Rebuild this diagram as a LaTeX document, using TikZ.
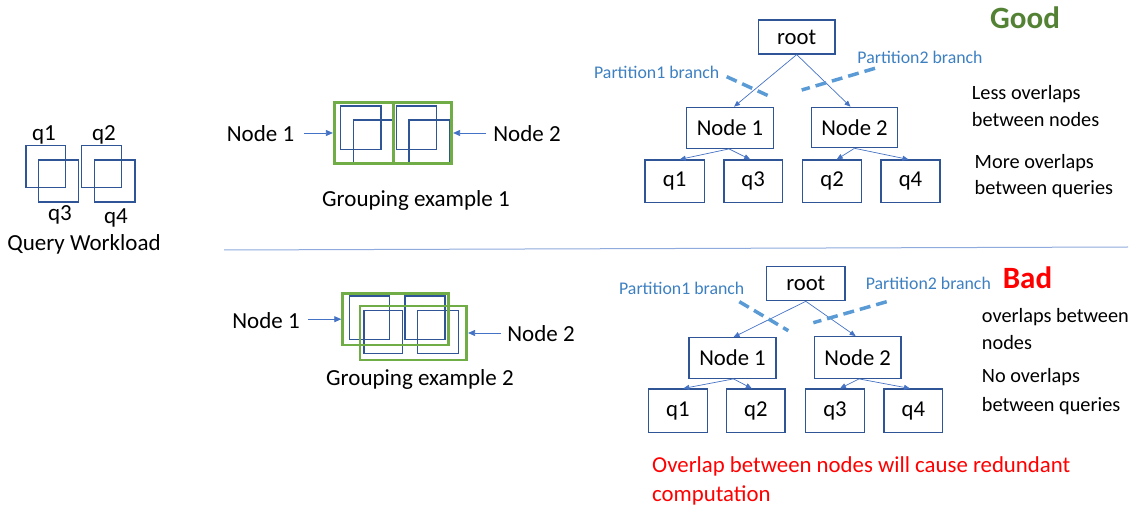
\documentclass[tikz,border=0pt]{standalone}
\usepackage{fontspec}
\setmainfont{Carlito}
\usetikzlibrary{arrows.meta}
\definecolor{boxblue}{RGB}{47,85,151}
\definecolor{linkblue}{RGB}{68,114,196}
\definecolor{dashblue}{RGB}{91,155,213}
\definecolor{labelblue}{RGB}{61,128,193}
\definecolor{groupgreen}{RGB}{112,173,71}
\definecolor{goodgreen}{RGB}{84,130,53}
\definecolor{rulerblue}{RGB}{143,170,220}
\tikzset{
  body/.style={font=\fontsize{23}{27}\selectfont, inner sep=0pt},
  note/.style={font=\fontsize{20.3}{24}\selectfont, inner sep=0pt, anchor=base west},
  verdict/.style={font=\fontsize{31}{36}\selectfont\bfseries, inner sep=0pt},
  tbox/.style={draw=boxblue, line width=1.2pt, inner sep=0pt, font=\fontsize{22.7}{26}\selectfont},
  qsq/.style={draw=boxblue, line width=1.1pt},
  grp/.style={draw=groupgreen, line width=2.8pt, inner sep=0pt},
  link/.style={draw=linkblue, line width=0.7pt, -{Triangle[length=6pt,width=5pt]}},
  pointer/.style={draw=linkblue, line width=0.8pt, -{Triangle[length=7pt,width=6pt]}},
  part/.style={draw=dashblue, line width=3.5pt, dash pattern=on 11pt off 6pt},
  partlbl/.style={text=labelblue, font=\fontsize{17.8}{21}\selectfont, inner sep=0pt},
}
\begin{document}
\begin{tikzpicture}[x=1pt,y=-1pt]
\useasboundingbox (0,0) rectangle (1135,510);

% ---------- query workload ----------
\draw[qsq] (26,145.7) rectangle (65.7,187.7);
\draw[qsq] (38.7,160) rectangle (78.7,202);
\draw[qsq] (81.7,145.7) rectangle (121.3,187.7);
\draw[qsq] (94.7,160) rectangle (135,202);
\node[body, anchor=base] (lq1) at (44,140.5) {q1};
\node[body, anchor=base] (lq2) at (104,140.5) {q2};
\node[body, anchor=base] (lq3) at (60,221) {q3};
\node[body, anchor=base] (lq4) at (116,223.5) {q4};
\node[body, anchor=base] (wl) at (84,251) {Query Workload};

% ---------- grouping example 1 ----------
\draw[qsq] (340.7,106) rectangle (381,149.3);
\draw[qsq] (353.3,120) rectangle (392.3,163.3);
\draw[qsq] (396.7,106) rectangle (436.7,149.3);
\draw[qsq] (409,120) rectangle (450,163.3);
\node[grp, minimum width=59pt, minimum height=60.6pt] (g1a) at (363.8,133) {};
\node[grp, minimum width=58.4pt, minimum height=60.6pt] (g1b) at (422.5,133) {};
\node[body, anchor=base] (g1l1) at (260.5,141.7) {Node 1};
\node[body, anchor=base] (g1l2) at (527,141.7) {Node 2};
\draw[pointer] ([xshift=-29pt]g1a.west) -- (g1a.west);
\draw[pointer] ([xshift=33pt]g1b.east) -- (g1b.east);
\node[body, anchor=base] (g1cap) at (416,207) {Grouping example 1};

% ---------- grouping example 2 ----------
\draw[qsq] (349.3,296) rectangle (389.3,339.3);
\draw[qsq] (364,310.7) rectangle (402.3,353.3);
\draw[qsq] (405,296) rectangle (445,339.3);
\draw[qsq] (417.7,310.7) rectangle (458.3,353.3);
\node[grp, minimum width=105.6pt, minimum height=51.7pt] (g2a) at (395.5,319.2) {};
\node[grp, minimum width=106.7pt, minimum height=54pt] (g2b) at (413.3,333) {};
\node[body, anchor=base] (g2l1) at (266,329) {Node 1};
\node[body, anchor=base] (g2l2) at (541,342) {Node 2};
\draw[pointer] ([xshift=-33pt]g2a.west) -- (g2a.west);
\draw[pointer] ([xshift=33pt]g2b.east) -- (g2b.east);
\node[body, anchor=base] (g2cap) at (420,385) {Grouping example 2};

% ---------- divider ----------
\draw[rulerblue, line width=1pt] (224,250) -- (1128,247);

% ---------- good tree ----------
\node[tbox, minimum width=76.7pt, minimum height=34pt] (rootA) at (796.7,37) {root};
\node[tbox, minimum width=86.6pt, minimum height=41pt] (n1A) at (730,127.8) {Node 1};
\node[tbox, minimum width=85.6pt, minimum height=40.4pt] (n2A) at (854.5,127.5) {Node 2};
\node[tbox, minimum width=59.3pt, minimum height=42.3pt] (q1A) at (674.7,181.2) {q1};
\node[tbox, minimum width=58.3pt, minimum height=42.3pt] (q3A) at (753.2,181.2) {q3};
\node[tbox, minimum width=59pt, minimum height=42.3pt] (q2A) at (832.2,181.2) {q2};
\node[tbox, minimum width=59pt, minimum height=42.3pt] (q4A) at (910.5,181.2) {q4};
\draw[link] (rootA.south) -- ([xshift=4pt]n1A.north);
\draw[link] (rootA.south) -- ([xshift=-4pt]n2A.north);
\draw[link] ([xshift=-1pt]n1A.south) -- ([xshift=5pt]q1A.north);
\draw[link] ([xshift=-1pt]n1A.south) -- ([xshift=-3pt]q3A.north);
\draw[link] (n2A.south) -- ([xshift=4.5pt]q2A.north);
\draw[link] (n2A.south) -- ([xshift=-2pt]q4A.north);
\coordinate (p1As) at (726.7,76.7);
\coordinate (p1Ae) at (771.7,97.3);
\coordinate (p2As) at (875,68.3);
\coordinate (p2Ae) at (801.7,90);
\draw[part] (p1As) -- (p1Ae);
\draw[part] (p2As) -- (p2Ae);
\node[partlbl, anchor=base] (p1Al) at (656.7,78.3) {Partition1 branch};
\node[partlbl, anchor=base] (p2Al) at (920,63.3) {Partition2 branch};
\node[verdict, text=goodgreen, anchor=base] (good) at (1025,28.3) {Good};
\node[note] (ga1) at (971.7,100) {Less overlaps};
\node[note] (ga2) at (971.7,126.7) {between nodes};
\node[note] (ga3) at (974.5,168.3) {More overlaps};
\node[note] (ga4) at (974.5,195) {between queries};

% ---------- bad tree ----------
\node[tbox, minimum width=78.3pt, minimum height=34pt] (rootB) at (805.8,283.7) {root};
\node[tbox, minimum width=87pt, minimum height=40.6pt] (n1B) at (732.5,358) {Node 1};
\node[tbox, minimum width=86.7pt, minimum height=41.6pt] (n2B) at (857.7,357.5) {Node 2};
\node[tbox, minimum width=59pt, minimum height=43.3pt] (q1B) at (677.8,410.7) {q1};
\node[tbox, minimum width=58.3pt, minimum height=43.3pt] (q2B) at (755.8,410.7) {q2};
\node[tbox, minimum width=58.6pt, minimum height=43.3pt] (q3B) at (835,410.7) {q3};
\node[tbox, minimum width=58.7pt, minimum height=43.3pt] (q4B) at (913.3,410.7) {q4};
\draw[link] (rootB.south) -- ([xshift=1pt]n1B.north);
\draw[link] (rootB.south) -- ([xshift=-2pt]n2B.north);
\draw[link] ([xshift=1pt]n1B.south) -- ([xshift=5.5pt]q1B.north);
\draw[link] ([xshift=1pt]n1B.south) -- ([xshift=-4pt]q2B.north);
\draw[link] ([xshift=1.3pt]n2B.south) -- ([xshift=5pt]q3B.north);
\draw[link] ([xshift=1.3pt]n2B.south) -- ([xshift=-3.3pt]q4B.north);
\coordinate (p1Bs) at (739.3,301.7);
\coordinate (p1Be) at (788.3,330.7);
\coordinate (p2Bs) at (886.7,301.7);
\coordinate (p2Be) at (813.3,322.7);
\draw[part] (p1Bs) -- (p1Be);
\draw[part] (p2Bs) -- (p2Be);
\node[partlbl, anchor=base] (p1Bl) at (681.7,295) {Partition1 branch};
\node[partlbl, anchor=base] (p2Bl) at (928.3,289.3) {Partition2 branch};
\node[verdict, text=red, anchor=base] (bad) at (1027.5,288.3) {Bad};
\node[note] (ba1) at (981.7,323) {overlaps between};
\node[note] (ba2) at (981.7,349.7) {nodes};
\node[note] (ba3) at (981.7,383) {No overlaps};
\node[note] (ba4) at (981.7,411) {between queries};
\node[body, text=red, anchor=base west, font=\fontsize{22.8}{27}\selectfont] (warn1) at (652,472.5) {Overlap between nodes will cause redundant};
\node[body, text=red, anchor=base west, font=\fontsize{22.8}{27}\selectfont] (warn2) at (652,501.5) {computation};
\end{tikzpicture}
\end{document}
